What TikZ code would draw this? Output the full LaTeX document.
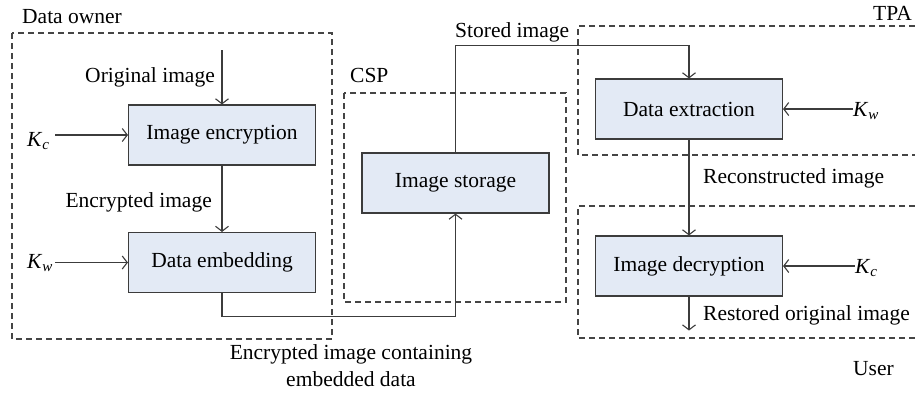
\documentclass[tikz,border=0pt]{standalone}
\usepackage{fontspec}
\setmainfont{Liberation Serif}
\usetikzlibrary{positioning, arrows.meta, calc}
\usepackage{xcolor}
\definecolor{boxblue}{HTML}{E3EAF5}
\definecolor{linegray}{HTML}{3C3C3C}
\definecolor{dashgray}{HTML}{454545}
\newcommand{\keysym}[1]{\textit{K}\textsubscript{\textit{#1}}}

\begin{document}
\begin{tikzpicture}[x=1pt, y=-1pt, font=\fontsize{21.5}{25}\selectfont,
    proc/.style={draw=linegray, fill=boxblue, line width=1.1pt, minimum width=187pt, minimum height=60pt},
    zone/.style={draw=dashgray, line width=1.2pt, dash pattern=on 6pt off 4pt},
    flow/.style={draw=linegray, line width=1.1pt, -{Straight Barb[length=5pt, width=13pt]}},
    lbl/.style={inner sep=0pt}]
    \useasboundingbox (0,0) rectangle (915,392);
    % boxes
    \node[proc] (enc) at (222,135) {Image encryption};
    \node[proc] (emb) at (222,262.5) {Data embedding};
    \node[proc] (sto) at (455.5,183) {Image storage};
    \node[proc] (ext) at (689,109) {Data extraction};
    \node[proc] (dec) at (689,266) {Image decryption};
    % dashed zones
    \draw[zone] (12,33) rectangle (332,339);
    \draw[zone] (344,93) rectangle (566,302);
    \draw[zone] (915,26) -- (578,26) -- (578,155) -- (915,155);
    \draw[zone] (915,206) -- (578,206) -- (578,338) -- (915,338);
    \node[lbl, anchor=base west] (ownerlbl) at (22,23) {Data owner};
    \node[lbl, anchor=base west] (csplbl) at (350,82) {CSP};
    \node[lbl, anchor=base east] (tpalbl) at (912,20) {TPA};
    \node[lbl, anchor=base east] (userlbl) at (894,375) {User};
    % keys and texts
    \coordinate (origin) at (222,50);
    \node[lbl, anchor=base east] (origlbl) at (215,82) {Original image};
    \node[lbl, anchor=base west] (kcin) at (27,146) {\keysym{c}};
    \node[lbl, anchor=base east] (enclbl) at (212,207) {Encrypted image};
    \node[lbl, anchor=base west] (kwin) at (27,268) {\keysym{w}};
    \node[lbl, align=center, anchor=north, font=\fontsize{21.5}{27}\selectfont] (contlbl) at (351,344)
      {Encrypted image containing\\ embedded data};
    \node[lbl, anchor=base west] (storlbl) at (455,37) {Stored image};
    \node[lbl, anchor=base west] (kwout) at (853,116) {\keysym{w}};
    \node[lbl, anchor=base west] (reclbl) at (703,183) {Reconstructed image};
    \node[lbl, anchor=base west] (kcout) at (855,273) {\keysym{c}};
    \node[lbl, anchor=base west] (restlbl) at (703,320) {Restored original image};
    % connectors
    \coordinate (kcstart) at (55,135);
    \coordinate (kwstart) at (55,262.5);
    \draw[flow] (kcstart) -- (enc.west |- kcstart);
    \draw[flow] (kwstart) -- (emb.west |- kwstart);
    \draw[flow] (origin) -- (enc);
    \draw[flow] (enc) -- (emb);
    \draw[flow] (emb.south) -- ++(0,23) -| (sto.south);
    \draw[flow] (sto.north) -- ++(0,-107) -| (ext.north);
    \draw[flow] (kwout.west |- ext.east) -- (ext.east);
    \draw[flow] (ext) -- (dec);
    \draw[flow] (kcout.west |- dec.east) -- (dec.east);
    \draw[flow] (dec.south) -- ++(0,34) coordinate (out);
\end{tikzpicture}
\end{document}
